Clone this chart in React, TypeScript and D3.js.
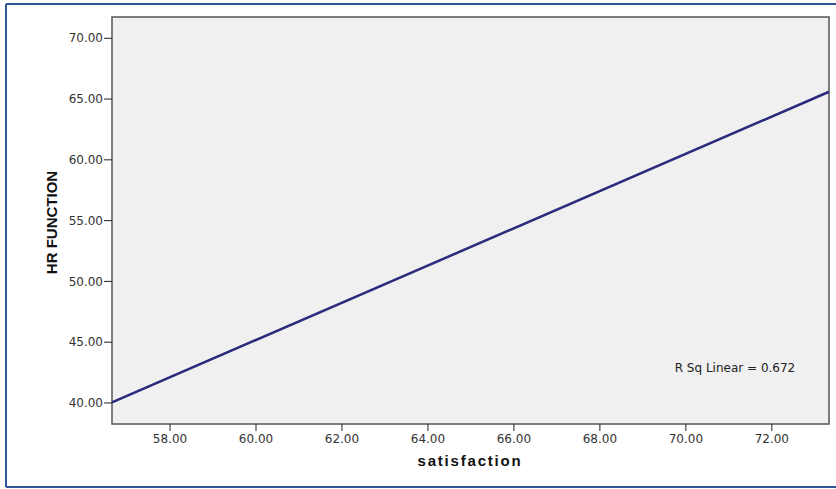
import React from "react";
import * as d3 from "d3";

const xTicks = [58, 60, 62, 64, 66, 68, 70, 72];
const yTicks = [40, 45, 50, 55, 60, 65, 70];
const xDomain = [56.65, 73.33];
const yDomain = [38.27, 71.75];
const fitX = [56.65, 73.33];
const fitY = [40.05, 65.6];
const xLabel = "satisfaction";
const yLabel = "HR FUNCTION";
const rsqText = "R Sq Linear = 0.672";

export default function App() {
  const W = 836, H = 489;
  const left = 112, right = 829, top = 17, bottom = 424;
  const x = d3.scaleLinear().domain(xDomain).range([left, right]);
  const y = d3.scaleLinear().domain(yDomain).range([bottom, top]);
  const line = d3.line<[number, number]>().x(d => x(d[0])).y(d => y(d[1]));
  const pts: [number, number][] = fitX.map((v, i) => [v, fitY[i]]);
  const font = "Arial, 'Liberation Sans', sans-serif";
  const tickFont = "'DejaVu Sans', Verdana, sans-serif";
  return (
    <svg width={W} height={H} style={{ position: "absolute", left: 0, top: 0, background: "#fff" }}>
      <line x1={6} y1={4} x2={836} y2={4} stroke="#2d5597" strokeWidth={2} />
      <line x1={6} y1={487} x2={836} y2={487} stroke="#2d5597" strokeWidth={2} />
      <line x1={6} y1={4} x2={6} y2={487} stroke="#2d5597" strokeWidth={2} />
      <rect x={left} y={top} width={right - left} height={bottom - top} fill="#f0f0f0" stroke="#555" strokeWidth={1.5} />
      <defs>
        <clipPath id="clip">
          <rect x={left} y={top} width={right - left} height={bottom - top} />
        </clipPath>
      </defs>
      <path d={line(pts) || ""} stroke="#2b2b7e" strokeWidth={2.5} fill="none" clipPath="url(#clip)" />
      {yTicks.map(t => (
        <g key={"y" + t}>
          <line x1={left - 8} x2={left} y1={y(t)} y2={y(t)} stroke="#222" strokeWidth={1} />
          <text x={left - 9} y={y(t)} dy="0.35em" textAnchor="end" fontFamily={tickFont} fontSize={12} fill="#333">
            {t.toFixed(2)}
          </text>
        </g>
      ))}
      {xTicks.map(t => (
        <g key={"x" + t}>
          <line x1={x(t)} x2={x(t)} y1={bottom} y2={bottom + 7} stroke="#222" strokeWidth={1} />
          <text x={x(t)} y={bottom + 19} textAnchor="middle" fontFamily={tickFont} fontSize={12} fill="#333">
            {t.toFixed(2)}
          </text>
        </g>
      ))}
      <text x={470} y={466} textAnchor="middle" fontFamily={font} fontSize={15} fontWeight="bold" letterSpacing={1.8} fill="#111">
        {xLabel}
      </text>
      <text transform={`translate(57, ${(top + bottom) / 2 + 2}) rotate(-90)`} textAnchor="middle" fontFamily={font} fontSize={15} fontWeight="bold" fill="#111">
        {yLabel}
      </text>
      <text x={735} y={372} textAnchor="middle" fontFamily={tickFont} fontSize={12} fill="#222">
        {rsqText}
      </text>
    </svg>
  );
}
